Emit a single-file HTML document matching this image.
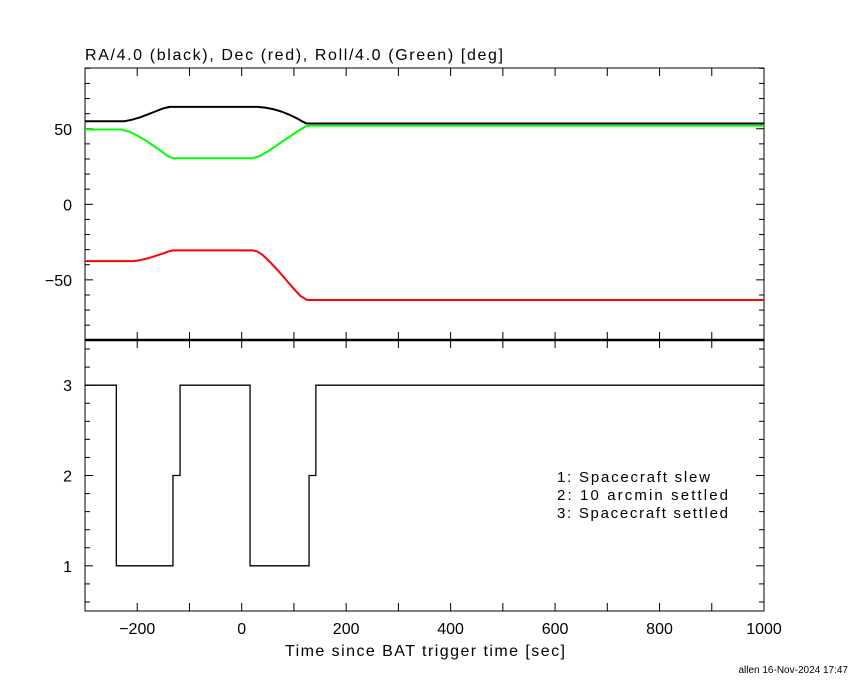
<!DOCTYPE html>
<html><head><meta charset="utf-8"><style>
body{margin:0;background:#fff}
svg{display:block;font-family:"Liberation Sans",sans-serif}
</style></head><body>
<svg id="c" width="850" height="680"></svg>
<script>
const blackT=[-300,-224,-210,-195,-180,-165,-150,-138,31,45,60,75,90,105,118,124,1000];
const blackV=[55,55,56,57.5,59.5,61.5,63.5,64.5,64.5,64,63,61.5,59.5,57,54.5,53.5,53.5];
const greenT=[-300,-230,-215,-200,-185,-170,-155,-142,-132,21,35,50,65,80,95,110,122,130,1000];
const greenV=[49.5,49.5,48,45.5,42.5,39,35.5,32,30.5,30.5,32,35,38.5,42,45.5,49,51.5,52,52];
const redT=[-300,-208,-195,-180,-165,-150,-140,-132,21,30,40,55,70,85,100,112,125,1000];
const redV=[-37.6,-37.6,-37,-35.8,-34.2,-32.5,-31.2,-30.5,-30.5,-31.2,-33.5,-38.5,-44,-50,-56,-60.5,-63.3,-63.3];
const stepT=[-300,-240,-131.6,-118,16,129,142,1000];
const stepV=[3,1,2,3,1,2,3];
const xTicks=[-200,0,200,400,600,800,1000];
const yTopTicks=[-50,0,50];
const yBotTicks=[1,2,3];
const legendLines=["1: Spacecraft slew","2: 10 arcmin settled","3: Spacecraft settled"];
const legendLens=[153,171,171];

const L=85,R=764,T=68,M=340,B=611;
const X=t=>L+(t+300)*(R-L)/1300;
const YT=v=>204.3-v*1.511;
const YB=v=>M+(3.5-v)*(B-M)/3;
const svg=document.getElementById('c');
const NS='http://www.w3.org/2000/svg';
function mk(tag,at,name){const e=document.createElementNS(NS,tag);for(const k in at)e.setAttribute(k,at[k]);


svg.appendChild(e);return e;}
function txt(s,x,y,name,anchor,size,len){const at={x:x,y:y,'text-anchor':anchor||'start','font-size':size||15,fill:'#000'};if(len){at.textLength=len;at.lengthAdjust='spacing';}const e=mk('text',at,name);e.textContent=s;return e;}
mk('rect',{x:L,y:T,width:R-L,height:M-T,fill:'none',stroke:'#000','stroke-width':1},'top-panel-frame');
mk('rect',{x:L,y:M,width:R-L,height:B-M,fill:'none',stroke:'#000','stroke-width':1},'bottom-panel-frame');
mk('line',{x1:L,y1:M,x2:R,y2:M,stroke:'#000','stroke-width':2.5},'panel-divider');
for(let t=-200;t<=1000;t+=100){const x=X(t);const len=8;
 for(const [y0,d] of [[T,1],[M,-1],[M,1],[B,-1]]) mk('line',{x1:x,y1:y0,x2:x,y2:y0+d*len,stroke:'#000'},'x-tick');}
xTicks.forEach(t=>txt(t<0?'\u2212'+(-t):String(t),X(t),634,'x-tick-label','middle',16));
for(let v=-90;v<=90;v+=10){const y=YT(v);const len=v%50===0?8:5;
 mk('line',{x1:L,y1:y,x2:L+len,y2:y,stroke:'#000'},'y-tick');mk('line',{x1:R,y1:y,x2:R-len,y2:y,stroke:'#000'},'y-tick');}
yTopTicks.forEach(v=>txt(v<0?'\u2212'+(-v):String(v),72,YT(v)+6,'y-tick-label','end',16));
for(let i=3;i<=17;i++){const v=i/5;const y=YB(v);const len=i%5===0?8:5;
 mk('line',{x1:L,y1:y,x2:L+len,y2:y,stroke:'#000'},'y-tick');mk('line',{x1:R,y1:y,x2:R-len,y2:y,stroke:'#000'},'y-tick');}
yBotTicks.forEach(v=>txt(String(v),72,YB(v)+6,'y-tick-label','end',16));
function line(ts,vs,col,name){mk('polyline',{points:ts.map((t,i)=>X(t)+','+YT(vs[i])).join(' '),fill:'none',stroke:col,'stroke-width':2,'stroke-linejoin':'round'},name);}
line(blackT,blackV,'#000','ra-line');
line(greenT,greenV,'#00ff00','roll-line');
line(redT,redV,'#ff0000','dec-line');
let pts=[];stepV.forEach((v,i)=>{pts.push(X(stepT[i])+','+YB(v));pts.push(X(stepT[i+1])+','+YB(v));});
mk('polyline',{points:pts.join(' '),fill:'none',stroke:'#000','stroke-width':1.3},'settle-status-line');
txt('RA/4.0 (black), Dec (red), Roll/4.0 (Green) [deg]',85,60,'chart-title','start',16,418);
txt('Time since BAT trigger time [sec]',285,656,'x-axis-title','start',16,280);
legendLines.forEach((s,i)=>txt(s,557,482+i*18,'legend-entry','start',15,legendLens[i]));
txt('allen 16-Nov-2024 17:47',848,673,'footer-credit','end',10);
</script>
</body></html>
